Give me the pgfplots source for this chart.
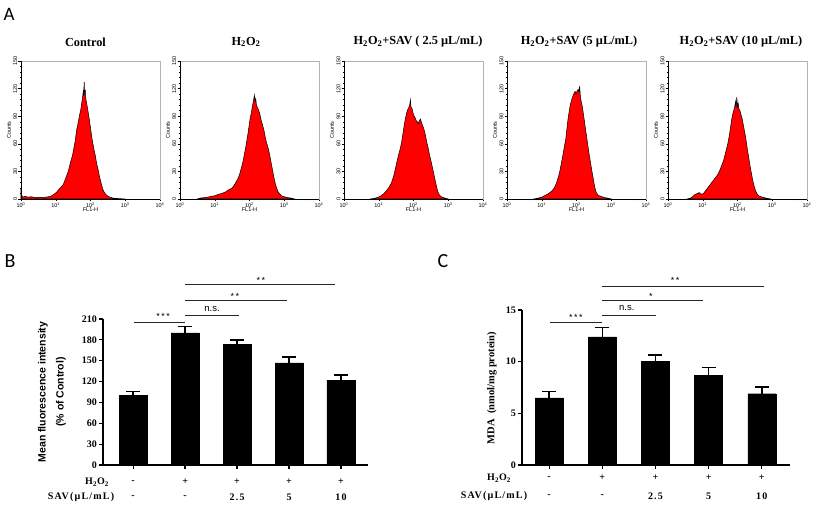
\documentclass[border=0pt]{standalone}
\usepackage{fontspec}
\setmainfont{Liberation Serif}
\setsansfont{Liberation Sans}
\newfontfamily\panelfont{Carlito}
\newfontfamily\wideserif[LetterSpace=12]{Liberation Serif}
\usepackage{pgfplots}
\pgfplotsset{compat=1.18}
\newcommand\hoo{H\textsubscript{2}O\textsubscript{2}}
\newcommand\hf{\fontsize{5.5}{6.5}\selectfont\sffamily}
\newcommand\tf{\fontsize{12.3}{14}\selectfont\bfseries}
\newcommand\bfs{\fontsize{10}{12}\selectfont\bfseries}
\newcommand\rfs{\fontsize{10}{12}\selectfont\wideserif\bfseries}
\pgfplotsset{
  /pgf/number format/assume math mode=true,
  hist/.style={
    anchor=south west, scale only axis, width=139pt, height=138pt,
    xmin=0, xmax=4, ymin=0, ymax=150, clip=false,
    xtick={0,1,2,3,4},
    xticklabels={10\textsuperscript{0},10\textsuperscript{1},10\textsuperscript{2},10\textsuperscript{3},10\textsuperscript{4}},
    minor xtick={0.301,0.477,0.602,0.699,0.778,0.845,0.903,0.954,
                 1.301,1.477,1.602,1.699,1.778,1.845,1.903,1.954,
                 2.301,2.477,2.602,2.699,2.778,2.845,2.903,2.954,
                 3.301,3.477,3.602,3.699,3.778,3.845,3.903,3.954},
    ytick={0,30,60,90,120,150}, minor y tick num=4,
    tick pos=left, tick align=outside,
    major tick length=2.5pt, minor tick length=1.3pt,
    every tick/.style={black, line width=0.4pt},
    ticklabel style={font=\hf, inner sep=1pt},
    yticklabel style={rotate=90, anchor=south},
    xlabel={FL1-H}, ylabel={Counts},
    label style={font=\hf},
    xlabel style={yshift=4pt}, ylabel style={yshift=-2pt},
    axis line style={draw=gray!60, line width=0.6pt},
    after end axis/.code={\draw[black,line width=0.6pt] (rel axis cs:0,1)--(rel axis cs:0,0)--(rel axis cs:1,0);},
  },
  hplot/.style={fill=red, draw=black, line width=0.5pt},
  bars/.style={
    anchor=south west, scale only axis, clip=false,
    axis lines*=left, axis line style={line width=1.6pt},
    tick align=outside, major tick length=4pt,
    every tick/.style={black, line width=1.2pt},
    xtick={0,1,2,3,4}, xticklabels={},
    yticklabel style={font=\bfs, inner sep=2pt},
  },
  bplot/.style={ybar, bar width=28pt, fill=black, draw=black,
    error bars/.cd, y dir=plus, y explicit,
    error bar style={line width=1.6pt, black},
    error mark options={rotate=90, mark size=7pt, line width=1.6pt, black}},
}
\begin{document}
\begin{tikzpicture}
\path[use as bounding box] (0,0) rectangle (817pt,-505pt);
% panel letters
\node[font=\panelfont\fontsize{19}{20}\selectfont] at (9pt,-14pt) {A};
\node[font=\panelfont\fontsize{20}{22}\selectfont] at (10pt,-261pt) {B};
\node[font=\panelfont\fontsize{20}{22}\selectfont] at (443pt,-261pt) {C};
% titles
\node[font=\tf] at (85.5pt,-42pt) {Control};
\node[font=\tf] at (246pt,-42pt) {\hoo};
\node[font=\tf] at (418pt,-42pt) {\hoo+SAV ( 2.5 µL/mL)};
\node[font=\tf] at (579pt,-42pt) {\hoo+SAV (5 µL/mL)};
\node[font=\tf] at (741pt,-42pt) {\hoo+SAV (10 µL/mL)};

% histogram 1: Control
\begin{axis}[hist, at={(21pt,-199pt)}]
\addplot[hplot] coordinates {(0,12) (0.02,4) (0.06,2) (0.12,3) (0.2,2) (0.3,2.5) (0.4,1.5) (0.5,2) (0.6,1.5) (0.7,2) (0.8,2.5) (0.86,3) (0.92,4.5) (0.98,6) (1.04,8) (1.10,11) (1.16,13) (1.22,16) (1.28,22) (1.32,26) (1.36,30) (1.40,36) (1.44,42) (1.48,47) (1.52,55) (1.56,63) (1.60,75) (1.63,80) (1.66,86) (1.69,92) (1.72,97) (1.75,105) (1.77,110) (1.79,116) (1.80,112) (1.82,127) (1.83,115) (1.85,118) (1.87,108) (1.90,102) (1.93,95) (1.96,88) (1.99,80) (2.02,72) (2.05,64) (2.08,58) (2.11,52) (2.14,47) (2.17,40) (2.20,35) (2.23,30) (2.26,24) (2.29,20) (2.32,15) (2.36,10) (2.40,7) (2.44,5) (2.50,3) (2.56,2) (2.65,1) (2.8,0.5) (3.0,0)} \closedcycle;
\end{axis}
% histogram 2: H2O2
\begin{axis}[hist, at={(180pt,-199pt)}]
\addplot[hplot] coordinates {(0.5,0) (0.57,1) (0.7,1.5) (0.8,2) (0.9,3) (1.0,3.5) (1.1,5) (1.2,6) (1.3,7.5) (1.4,10) (1.5,12) (1.56,15) (1.62,19) (1.68,23) (1.74,30) (1.78,36) (1.82,42) (1.86,50) (1.90,58) (1.93,65) (1.96,72) (1.99,80) (2.02,88) (2.05,93) (2.08,100) (2.10,104) (2.12,108) (2.14,113) (2.16,106) (2.18,109) (2.20,102) (2.23,99) (2.26,97) (2.30,92) (2.34,85) (2.38,80) (2.42,74) (2.46,66) (2.50,60) (2.54,55) (2.58,48) (2.62,40) (2.66,32) (2.70,24) (2.74,17) (2.78,12) (2.82,8) (2.88,5) (2.94,3) (3.0,2.5) (3.1,1.5) (3.2,1) (3.3,0)} \closedcycle;
\end{axis}
% histogram 3: 2.5
\begin{axis}[hist, at={(344pt,-199pt)}]
\addplot[hplot] coordinates {(0.75,0) (0.85,0.5) (0.95,1.5) (1.05,3) (1.15,6) (1.22,9) (1.30,13) (1.37,18) (1.43,25) (1.48,33) (1.52,40) (1.57,48) (1.62,55) (1.66,62) (1.70,72) (1.74,82) (1.77,88) (1.80,93) (1.83,97) (1.86,99) (1.89,102) (1.91,108) (1.93,100) (1.96,98) (1.99,93) (2.02,90) (2.05,88) (2.08,85) (2.11,84) (2.14,82) (2.17,85) (2.20,87) (2.23,83) (2.26,80) (2.30,76) (2.34,70) (2.38,62) (2.42,56) (2.46,48) (2.50,42) (2.54,35) (2.58,28) (2.62,21) (2.66,14) (2.70,8) (2.75,4) (2.82,2) (2.90,1) (3.0,0)} \closedcycle;
\end{axis}
% histogram 4: 5
\begin{axis}[hist, at={(507pt,-199pt)}]
\addplot[hplot] coordinates {(0.77,0) (0.9,1) (1.0,2) (1.1,4) (1.2,6) (1.3,9) (1.36,12) (1.42,17) (1.48,24) (1.53,32) (1.57,40) (1.61,48) (1.65,57) (1.69,65) (1.72,75) (1.75,85) (1.78,93) (1.81,100) (1.84,105) (1.87,109) (1.90,112) (1.93,115) (1.96,117) (1.99,114) (2.02,118) (2.05,119) (2.07,116) (2.09,123) (2.11,112) (2.14,105) (2.17,100) (2.20,92) (2.23,84) (2.26,76) (2.29,68) (2.32,60) (2.35,52) (2.38,45) (2.41,38) (2.44,31) (2.47,25) (2.50,18) (2.53,12) (2.57,7) (2.62,4) (2.70,3) (2.80,1.5) (2.90,1) (3.0,0)} \closedcycle;
\end{axis}
% histogram 5: 10
\begin{axis}[hist, at={(668pt,-199pt)}]
\addplot[hplot] coordinates {(0.55,0) (0.65,1) (0.72,3) (0.78,5) (0.84,6) (0.90,7) (0.96,5) (1.02,6) (1.08,9) (1.14,12) (1.20,15) (1.26,18) (1.32,21) (1.38,24) (1.44,27) (1.50,32) (1.55,37) (1.60,42) (1.64,48) (1.68,54) (1.72,60) (1.76,68) (1.80,78) (1.83,86) (1.86,92) (1.89,96) (1.92,100) (1.94,106) (1.96,99) (1.98,111) (2.00,100) (2.02,104) (2.04,98) (2.07,96) (2.10,92) (2.13,88) (2.16,82) (2.19,76) (2.22,70) (2.25,63) (2.28,55) (2.31,48) (2.34,41) (2.37,34) (2.40,28) (2.44,20) (2.48,14) (2.52,9) (2.57,5) (2.63,3) (2.72,2) (2.82,1) (2.95,0)} \closedcycle;
\end{axis}

% Panel B
\node[rotate=90, align=center, font=\sffamily\bfseries\fontsize{10.5}{18}\selectfont] at (52pt,-392pt) {Mean fluorescence intensity\\(\% of Control)};
\node[font=\rfs] at (97pt,-482pt) {\hoo};
\node[font=\rfs] at (81pt,-497pt) {SAV(µL/mL)};
\begin{axis}[bars, at={(103pt,-465pt)}, width=265pt, height=146pt,
  xmin=-0.58, xmax=4.52, ymin=0, ymax=210, ytick={0,30,60,90,120,150,180,210}]
\addplot[bplot] coordinates {(0,100) +- (0,6) (1,190) +- (0,9) (2,174) +- (0,6) (3,147) +- (0,8) (4,122) +- (0,7.5)};
\draw[line width=0.6pt, black!85] (axis cs:0.02,205.6) -- (axis cs:1,205.6);
\draw[line width=0.6pt, black!85] (axis cs:1,215.7) -- (axis cs:2.04,215.7);
\draw[line width=0.6pt, black!85] (axis cs:1,237.3) -- (axis cs:2.96,237.3);
\draw[line width=0.6pt, black!85] (axis cs:1,259.9) -- (axis cs:3.88,259.9);
\node[font=\sffamily\fontsize{9}{10}\selectfont, yshift=-2pt] at (axis cs:0.575,217) {*\,*\,*};
\node[font=\sffamily\fontsize{9.5}{10}\selectfont] at (axis cs:1.52,224) {n.s.};
\node[font=\sffamily\fontsize{9}{10}\selectfont, yshift=-2pt] at (axis cs:1.96,246) {*\,*};
\node[font=\sffamily\fontsize{9}{10}\selectfont, yshift=-2pt] at (axis cs:2.46,269) {*\,*};
\node[font=\rfs, yshift=-17pt] at (axis cs:0,0) {-};
\node[font=\rfs, yshift=-17pt] at (axis cs:1,0) {+};
\node[font=\rfs, yshift=-17pt] at (axis cs:2,0) {+};
\node[font=\rfs, yshift=-17pt] at (axis cs:3,0) {+};
\node[font=\rfs, yshift=-17pt] at (axis cs:4,0) {+};
\node[font=\rfs, yshift=-32pt] at (axis cs:0,0) {-};
\node[font=\rfs, yshift=-32pt] at (axis cs:1,0) {-};
\node[font=\rfs, yshift=-32pt] at (axis cs:2,0) {2.5};
\node[font=\rfs, yshift=-32pt] at (axis cs:3,0) {5};
\node[font=\rfs, yshift=-32pt] at (axis cs:4,0) {10};
\end{axis}

% Panel C
\node[rotate=90, font=\bfseries\fontsize{10.5}{12}\selectfont] at (492pt,-388pt) {MDA~~(nmol/mg protein)};
\node[font=\rfs] at (499pt,-478pt) {\hoo};
\node[font=\rfs] at (494pt,-496pt) {SAV(µL/mL)};
\begin{axis}[bars, at={(522pt,-465pt)}, width=268pt, height=155pt,
  xmin=-0.51, xmax=4.53, ymin=0, ymax=15, ytick={0,5,10,15}]
\addplot[bplot] coordinates {(0,6.5) +- (0,0.6) (1,12.4) +- (0,0.9) (2,10.05) +- (0,0.6) (3,8.65) +- (0,0.8) (4,6.9) +- (0,0.65)};
\draw[line width=0.6pt, black!85] (axis cs:0.02,13.77) -- (axis cs:1,13.77);
\draw[line width=0.6pt, black!85] (axis cs:1,14.52) -- (axis cs:2.01,14.52);
\draw[line width=0.6pt, black!85] (axis cs:1,15.9) -- (axis cs:2.89,15.9);
\draw[line width=0.6pt, black!85] (axis cs:1,17.33) -- (axis cs:4.04,17.33);
\node[font=\sffamily\fontsize{9}{10}\selectfont, yshift=-2pt] at (axis cs:0.505,14.52) {*\,*\,*};
\node[font=\sffamily\fontsize{9.5}{10}\selectfont] at (axis cs:1.46,15.2) {n.s.};
\node[font=\sffamily\fontsize{9}{10}\selectfont, yshift=-2pt] at (axis cs:1.915,16.55) {*};
\node[font=\sffamily\fontsize{9}{10}\selectfont, yshift=-2pt] at (axis cs:2.37,18.1) {*\,*};
\node[font=\rfs, yshift=-13pt] at (axis cs:0,0) {-};
\node[font=\rfs, yshift=-13pt] at (axis cs:1,0) {+};
\node[font=\rfs, yshift=-13pt] at (axis cs:2,0) {+};
\node[font=\rfs, yshift=-13pt] at (axis cs:3,0) {+};
\node[font=\rfs, yshift=-13pt] at (axis cs:4,0) {+};
\node[font=\rfs, yshift=-31pt] at (axis cs:0,0) {-};
\node[font=\rfs, yshift=-31pt] at (axis cs:1,0) {-};
\node[font=\rfs, yshift=-31pt] at (axis cs:2,0) {2.5};
\node[font=\rfs, yshift=-31pt] at (axis cs:3,0) {5};
\node[font=\rfs, yshift=-31pt] at (axis cs:4,0) {10};
\end{axis}
\end{tikzpicture}
\end{document}
